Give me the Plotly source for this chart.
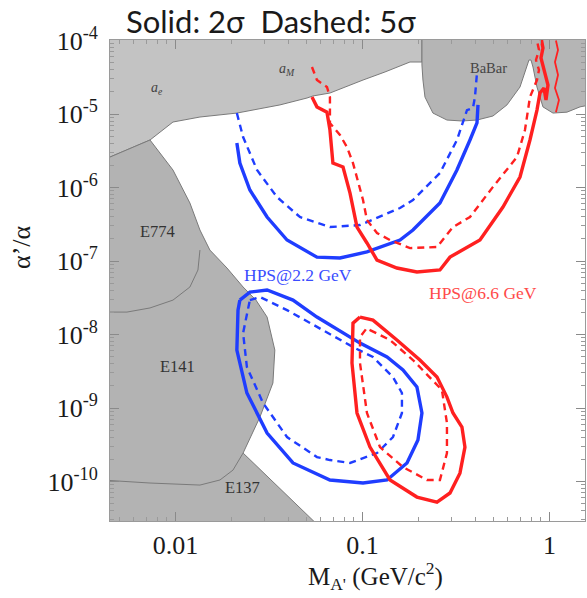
import plotly.graph_objects as go

# ---------------- data (mass in GeV/c^2, alpha'/alpha) ----------------
# a_e / a_M excluded region: lower boundary, right to left
amu_mass = [0.208, 0.1795, 0.1319, 0.1007, 0.0670, 0.0543, 0.0505, 0.0362,
            0.0213, 0.01352, 0.0097, 0.00731, 0.00447, 0.004]
amu_eps = [5.10e-5, 5.10e-5, 3.73e-5, 2.90e-5, 1.93e-5, 1.76e-5, 1.65e-5, 1.33e-5,
           1.03e-5, 9.10e-6, 7.78e-6, 4.43e-6, 2.60e-6, 2.35e-6]

# beam-dump region (E774 / E141 / E137): edge facing the open window, top to bottom
dump_mass = [0.00731, 0.0097, 0.01195, 0.01352, 0.01528, 0.01886, 0.0230, 0.02695,
             0.0309, 0.0340, 0.0332, 0.0283, 0.0230, 0.0638]
dump_eps = [4.43e-6, 1.73e-6, 6.15e-7, 2.64e-7, 1.41e-7, 8.04e-8, 4.43e-8, 2.94e-8,
            1.73e-8, 6.15e-9, 2.19e-9, 7.55e-10, 2.44e-10, 2.0e-11]

# E774 / E141 dividing contour
e774_mass = [0.01352, 0.01319, 0.01195, 0.0097, 0.00731, 0.0055, 0.004]
e774_eps = [1.41e-7, 7.55e-8, 4.43e-8, 2.94e-8, 2.30e-8, 2.02e-8, 2.02e-8]

# E141 / E137 dividing contour
e137_mass = [0.004, 0.00731, 0.01352, 0.0173, 0.0203, 0.0230]
e137_eps = [1.05e-10, 9.54e-11, 8.95e-11, 1.05e-10, 1.43e-10, 2.44e-10]

# BaBar excluded region: lower boundary, left to right
babar_mass = [0.208, 0.208, 0.2106, 0.2159, 0.2382, 0.2830, 0.3404, 0.4096, 0.4987,
              0.5925, 0.6955, 0.758, 0.777, 0.7964, 0.8162, 0.8574, 0.923, 1.044,
              1.24, 1.456, 1.647]
babar_eps = [1.2e-4, 4.64e-5, 2.90e-5, 1.70e-5, 1.03e-5, 8.28e-6, 8.04e-6, 8.28e-6,
             9.40e-6, 1.33e-5, 2.33e-5, 4.36e-5, 5.43e-5, 5.43e-5, 4.36e-5, 2.33e-5,
             1.25e-5, 1.03e-5, 1.06e-5, 1.25e-5, 1.33e-5]

# HPS @ 2.2 GeV, prompt (upper) reach
hps22_2s_mass = [0.0213, 0.0221, 0.0250, 0.0309, 0.0395, 0.0571, 0.0758, 0.1057,
                 0.1588, 0.1862, 0.2596, 0.3200, 0.3758, 0.4096, 0.4147]
hps22_2s_eps = [4.03e-6, 2.15e-6, 9.25e-7, 3.97e-7, 1.93e-7, 1.13e-7, 1.10e-7, 1.33e-7,
                1.93e-7, 2.64e-7, 6.15e-7, 1.73e-6, 4.43e-6, 7.55e-6, 1.33e-5]
hps22_5s_mass = [0.0213, 0.0230, 0.0273, 0.0349, 0.0463, 0.0670, 0.0970, 0.1588,
                 0.1862, 0.2596, 0.3200, 0.3622, 0.3899, 0.3996, 0.4096]
hps22_5s_eps = [1.03e-5, 4.86e-6, 1.73e-6, 7.43e-7, 3.97e-7, 2.90e-7, 3.09e-7, 5.26e-7,
                6.76e-7, 1.57e-6, 4.43e-6, 1.13e-5, 1.21e-5, 1.70e-5, 3.61e-5]

# HPS @ 6.6 GeV, prompt (upper) reach
hps66_2s_mass = [0.0537, 0.0571, 0.0646, 0.0670, 0.0695, 0.0787, 0.0858, 0.0935,
                 0.1057, 0.1196, 0.1528, 0.1955, 0.2596, 0.2938, 0.4249, 0.5640,
                 0.6955, 0.7865, 0.8574, 0.8896, 0.9346, 0.9579, 0.9818, 0.9346,
                 0.9006, 0.9230, 0.9006]
hps66_2s_eps = [1.70e-5, 1.25e-5, 1.06e-5, 6.06e-6, 2.15e-6, 1.90e-6, 8.41e-7, 2.90e-7,
                1.76e-7, 1.03e-7, 8.04e-8, 7.08e-8, 7.55e-8, 1.13e-7, 1.93e-7, 5.43e-7,
                1.39e-6, 4.43e-6, 1.13e-5, 1.93e-5, 2.26e-5, 1.55e-5, 2.48e-5, 3.97e-5,
                5.78e-5, 7.91e-5, 1.1e-4]
hps66_5s_mass = [0.0537, 0.0571, 0.0646, 0.0670, 0.0670, 0.0758, 0.0826, 0.0890,
                 0.1007, 0.1057, 0.1196, 0.1404, 0.1795, 0.2503, 0.3048, 0.3758,
                 0.4987, 0.6703, 0.7396, 0.7865, 0.8574, 0.8790, 0.8470, 0.8790, 0.8574]
hps66_5s_eps = [4.36e-5, 2.90e-5, 2.33e-5, 1.70e-5, 7.55e-6, 5.18e-6, 3.56e-6, 2.15e-6,
                6.76e-7, 3.61e-7, 2.40e-7, 1.93e-7, 1.50e-7, 1.55e-7, 2.90e-7, 3.97e-7,
                1.02e-6, 2.60e-6, 6.06e-6, 1.70e-5, 2.90e-5, 3.97e-5, 5.43e-5, 7.43e-5, 1.0e-4]
hps66_edge_mass = [1.083, 1.124, 1.070, 1.111, 1.070, 1.111, 1.083]
hps66_edge_eps = [1.06e-5, 1.55e-5, 2.26e-5, 3.40e-5, 5.10e-5, 7.43e-5, 1.0e-4]

# displaced-vertex (lower) reach, closed contours
vtx22_2s_mass = [0.0221, 0.0250, 0.0309, 0.0425, 0.0571, 0.0970, 0.1353, 0.1647,
                 0.1955, 0.2080, 0.1980, 0.1730, 0.1353, 0.1007, 0.0670, 0.0425,
                 0.0309, 0.0241, 0.0213, 0.0216, 0.0221]
vtx22_2s_eps = [2.94e-8, 3.78e-8, 4.03e-8, 2.94e-8, 1.73e-8, 7.65e-9, 4.94e-9, 3.29e-9,
                1.93e-9, 8.55e-10, 3.67e-10, 1.79e-10, 1.05e-10, 9.54e-11, 1.05e-10,
                1.79e-10, 4.57e-10, 1.60e-9, 6.15e-9, 2.15e-8, 2.94e-8]
vtx22_5s_mass = [0.0250, 0.0283, 0.0395, 0.0571, 0.0890, 0.1138, 0.1456, 0.1626,
                 0.1626, 0.1456, 0.1196, 0.0858, 0.0670, 0.0571, 0.0395, 0.0294,
                 0.0241, 0.0230, 0.0250]
vtx22_5s_eps = [2.94e-8, 3.24e-8, 2.15e-8, 1.26e-8, 6.76e-9, 4.94e-9, 2.64e-9, 1.60e-9,
                8.55e-10, 4.03e-10, 2.44e-10, 1.79e-10, 1.96e-10, 2.15e-10, 4.03e-10,
                1.17e-9, 3.61e-9, 1.05e-8, 2.94e-8]
vtx66_2s_mass = [0.0970, 0.1138, 0.1528, 0.2028, 0.2503, 0.2830, 0.3048, 0.3404,
                 0.3532, 0.3321, 0.2938, 0.2503, 0.1955, 0.1404, 0.1097, 0.0935,
                 0.0879, 0.0890, 0.0970]
vtx66_2s_eps = [1.73e-8, 1.57e-8, 8.41e-9, 4.50e-9, 2.64e-9, 1.41e-9, 8.55e-10, 5.51e-10,
                2.94e-10, 1.30e-10, 6.98e-11, 5.26e-11, 6.15e-11, 1.05e-10, 2.94e-10,
                8.55e-10, 4.09e-9, 1.43e-8, 1.73e-8]
vtx66_5s_mass = [0.1097, 0.1404, 0.1862, 0.2296, 0.2660, 0.2830, 0.2830, 0.2596,
                 0.2213, 0.1647, 0.1241, 0.1057, 0.0970, 0.0970, 0.1057, 0.1097]
vtx66_5s_eps = [1.15e-8, 8.41e-9, 4.50e-9, 2.64e-9, 1.76e-9, 6.25e-10, 2.44e-10, 1.05e-10,
                1.05e-10, 1.57e-10, 2.94e-10, 8.55e-10, 4.09e-9, 9.25e-9, 1.23e-8, 1.15e-8]

x_ticks = [0.01, 0.1, 1]
x_tick_text = ["0.01", "0.1", "1"]
y_ticks = [1e-4, 1e-5, 1e-6, 1e-7, 1e-8, 1e-9, 1e-10]
y_tick_text = ["10<sup>-4</sup>", "10<sup>-5</sup>", "10<sup>-6</sup>", "10<sup>-7</sup>",
               "10<sup>-8</sup>", "10<sup>-9</sup>", "10<sup>-10</sup>"]

# ---------------- drawing ----------------
X_LO, X_HI = 0.004, 1.7
Y_LO, Y_HI = 2.0e-11, 1.2e-4

LIGHT_GRAY = "#c3c3c3"
DUMP_GRAY = "#b3b3b3"
BABAR_GRAY = "#b5b5b5"
EDGE_GRAY = "#7a7a7a"
BLUE = "#1f3dff"
RED = "#ff2020"
SERIF = "Liberation Serif, Times New Roman, serif"


def minor_positions(lo_exp, hi_exp):
    """2..9 x 10^n sub-decade tick positions."""
    return [k * 10.0 ** n for n in range(lo_exp, hi_exp + 1) for k in range(2, 10)]


fig = go.Figure()

# a_e / a_M region: top edge then lower boundary
fig.add_trace(go.Scatter(
    x=[X_LO, amu_mass[0]] + amu_mass,
    y=[Y_HI, Y_HI] + amu_eps,
    fill="toself", fillcolor=LIGHT_GRAY, mode="lines",
    line=dict(color=EDGE_GRAY, width=1), hoverinfo="skip", showlegend=False))

# beam-dump region
fig.add_trace(go.Scatter(
    x=[amu_mass[-1], amu_mass[-2]] + dump_mass + [X_LO],
    y=[amu_eps[-1], amu_eps[-2]] + dump_eps + [Y_LO],
    fill="toself", fillcolor=DUMP_GRAY, mode="lines",
    line=dict(color=EDGE_GRAY, width=1), hoverinfo="skip", showlegend=False))

for mx, ey in ((e774_mass, e774_eps), (e137_mass, e137_eps)):
    fig.add_trace(go.Scatter(x=mx, y=ey, mode="lines",
                             line=dict(color=EDGE_GRAY, width=1),
                             hoverinfo="skip", showlegend=False))

# BaBar region
fig.add_trace(go.Scatter(
    x=babar_mass + [babar_mass[-1]],
    y=babar_eps + [Y_HI],
    fill="toself", fillcolor=BABAR_GRAY, mode="lines",
    line=dict(color=EDGE_GRAY, width=1), hoverinfo="skip", showlegend=False))


def curve(mx, ey, color, dashed, width=None):
    w = width if width is not None else (2.4 if dashed else 3.4)
    fig.add_trace(go.Scatter(
        x=mx, y=ey, mode="lines",
        line=dict(color=color, width=w, dash="7px,5px" if dashed else "solid"),
        hoverinfo="skip", showlegend=False))


curve(hps22_2s_mass, hps22_2s_eps, BLUE, False)
curve(hps22_5s_mass, hps22_5s_eps, BLUE, True)
curve(hps66_2s_mass, hps66_2s_eps, RED, False)
curve(hps66_5s_mass, hps66_5s_eps, RED, True)
curve(hps66_edge_mass, hps66_edge_eps, RED, False, width=1.8)
curve(vtx22_2s_mass, vtx22_2s_eps, BLUE, False)
curve(vtx22_5s_mass, vtx22_5s_eps, BLUE, True)
curve(vtx66_2s_mass, vtx66_2s_eps, RED, False)
curve(vtx66_5s_mass, vtx66_5s_eps, RED, True)

annotations = [
    dict(text="Solid: 2σ  Dashed: 5σ", x=0.339, y=1.039,
         font=dict(family="Lato, sans-serif", size=31, color="#1a1a1a")),
    dict(text="α’/α", x=-0.185, y=0.57, textangle=-90,
         font=dict(family=SERIF, size=26, color="#1a1a1a")),
    dict(text="M<sub>A'</sub> (GeV/c<sup>2</sup>)", x=0.558, y=-0.115,
         font=dict(family=SERIF, size=25, color="#1a1a1a")),
    dict(text="HPS@2.2 GeV", x=0.396, y=0.511,
         font=dict(family=SERIF, size=17.5, color="#3a4cff")),
    dict(text="HPS@6.6 GeV", x=0.785, y=0.474,
         font=dict(family=SERIF, size=17.5, color="#ff4a4a")),
    dict(text="E774", x=0.101, y=0.601, font=dict(family=SERIF, size=16.5, color="#333")),
    dict(text="E141", x=0.143, y=0.322, font=dict(family=SERIF, size=16.5, color="#333")),
    dict(text="E137", x=0.278, y=0.069, font=dict(family=SERIF, size=16.5, color="#333")),
    dict(text="BaBar", x=0.796, y=0.942, font=dict(family=SERIF, size=14.5, color="#444")),
    dict(text="<i>a<sub>e</sub></i>", x=0.099, y=0.900,
         font=dict(family=SERIF, size=14, color="#444")),
    dict(text="<i>a<sub>M</sub></i>", x=0.373, y=0.938,
         font=dict(family=SERIF, size=14, color="#444")),
]
for a in annotations:
    a.update(xref="paper", yref="paper", showarrow=False, xanchor="center", yanchor="middle")

axis_common = dict(
    type="log", showgrid=False, zeroline=False,
    showline=True, linecolor="#9a9a9a", linewidth=1, mirror="allticks",
    ticks="inside", ticklen=9, tickwidth=1, tickcolor="#8a8a8a",
    tickfont=dict(family=SERIF, size=26, color="#1a1a1a"),
)

fig.update_layout(
    width=587, height=598, autosize=False,
    margin=dict(l=110, r=2, t=40, b=77),
    paper_bgcolor="white", plot_bgcolor="white",
    xaxis=dict(range=[-2.35, 0.19], tickvals=x_ticks, ticktext=x_tick_text,
               ticklabelstandoff=1,
               minor=dict(tickmode="array", tickvals=minor_positions(-3, 0),
                          ticks="inside", ticklen=4, tickcolor="#9a9a9a", showgrid=False),
               **axis_common),
    yaxis=dict(range=[-10.537, -3.993], tickvals=y_ticks, ticktext=y_tick_text,
               ticklabelstandoff=6,
               minor=dict(tickmode="array", tickvals=minor_positions(-11, -5),
                          ticks="inside", ticklen=4, tickcolor="#9a9a9a", showgrid=False),
               **axis_common),
    annotations=annotations,
)

fig.write_html("out.html")
